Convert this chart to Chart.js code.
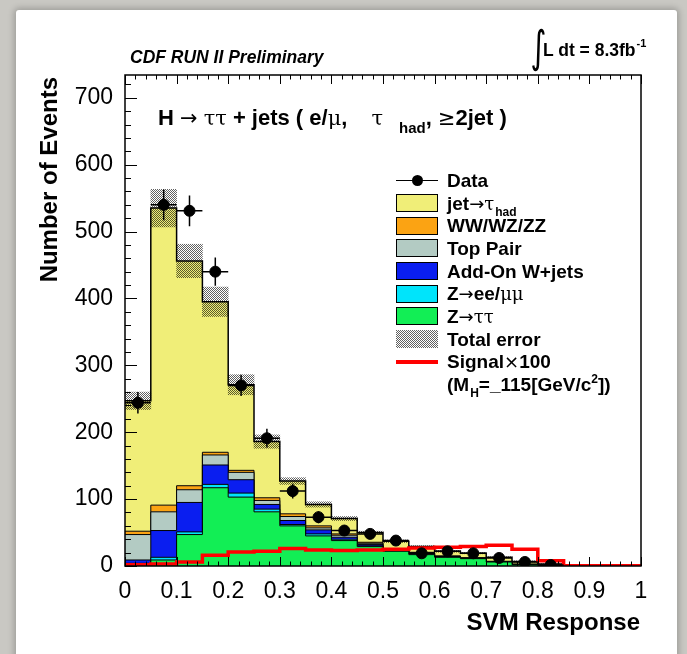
<!DOCTYPE html>
<html>
<head>
<meta charset="utf-8">
<script src="https://cdn.jsdelivr.net/npm/chart.js@4.4.1/dist/chart.umd.min.js"></script>
<style>
  html,body{margin:0;padding:0;}
  body{width:687px;height:654px;background:#c9c8c3;position:relative;overflow:hidden;font-family:"Liberation Sans",Arial,sans-serif;color:#000;}
  #panel{position:absolute;left:16px;top:10px;width:661px;height:700px;background:#fff;box-shadow:0 0 6px 2px rgba(0,0,0,.22);border-radius:3px;}
  #c{position:absolute;left:0;top:0;}
  .t{position:absolute;white-space:nowrap;line-height:1;font-weight:bold;}
  .g{font-family:"DejaVu Serif",serif;font-weight:normal;font-size:0.95em;}
  .a{font-family:"DejaVu Sans",sans-serif;font-weight:normal;font-size:0.95em;}
  sub,sup{position:relative;vertical-align:baseline;line-height:0;}
  #legend{position:absolute;left:396px;top:169px;}
  .row{height:22.7px;display:flex;align-items:center;font-weight:bold;font-size:19px;line-height:1;white-space:nowrap;}
  .sw{width:42px;height:18px;margin-right:9px;box-sizing:border-box;flex:none;position:relative;}
  .row sub{font-size:12px;top:6px;margin-left:1px;}
  .row sup{font-size:12px;top:-8px;}
</style>
</head>
<body>
<div id="panel"></div>
<canvas id="c" width="687" height="654"></canvas>

<div class="t" style="left:130px;top:49px;font-size:17.5px;font-style:italic;">CDF RUN II Preliminary</div>
<div class="t" style="left:527px;top:25px;font-size:44px;font-weight:normal;font-family:'DejaVu Sans',sans-serif;transform:scaleX(0.7);">∫</div>
<div class="t" style="left:543px;top:42px;font-size:17.5px;">L dt = 8.3fb<sup style="font-size:11px;top:-9px;margin-left:1px;">-1</sup></div>
<div class="t" style="left:158px;top:107px;font-size:22px;">H <span class="a">→</span> <span class="g">ττ</span> + jets ( e/<span class="g">μ</span>, <span class="g" style="margin-left:18px;">τ</span><sub style="font-size:15px;top:8px;margin-left:16px;">had</sub>, <span class="a">≥</span>2jet )</div>
<div class="t" style="left:340px;top:610px;width:300px;text-align:right;font-size:24px;">SVM Response</div>
<div class="t" style="left:37px;top:377px;width:300px;text-align:right;font-size:24px;transform-origin:left top;transform:rotate(-90deg);">Number of Events</div>
<div id="legend"></div>

<script>
// SVM Response bins (low edges), width 0.05
const binLow = [0,0.05,0.1,0.15,0.2,0.25,0.3,0.35,0.4,0.45,0.5,0.55,0.6,0.65,0.7,0.75,0.8,0.85,0.9,0.95];
const binW = 0.05;
const xTicks = [0,0.1,0.2,0.3,0.4,0.5,0.6,0.7,0.8,0.9,1];
const xTickLabels = ['0','0.1','0.2','0.3','0.4','0.5','0.6','0.7','0.8','0.9','1'];
const yTicks = [0,100,200,300,400,500,600,700];
const yMax = 734;

// backgrounds (stack, bottom first)
const zTauTau = [3,9,47,117,103,81,60,45,38,29,22,17,13,11,6,2,1,0,0,0];
const zEeMuMu = [1,4,4,5,6,4,2,3,2,1,1,1,0.5,0.5,0.3,0.2,0,0,0,0];
const wJets   = [5,40,44,29,20,7,6,6,3,2,1.5,1,0.7,0.3,0.3,0.2,0,0,0,0];
const topPair = [38,28,19,15,11,6,6,3,3,2,1,1,0.5,0.2,0.2,0.2,0,0,0,0];
const diboson = [5,10,6,4,3,4,4,3,2,1.5,0.5,0.5,0.3,0.2,0.2,0.2,0,0,0,0];
const jetTau  = [195,444,336,225,128,84,49,32,23,14.5,11,8.5,7,7,6,4,2,0,0,0];
const totalErr = [13,28,25,22,15,10,5,4,3,2,2,1.5,1.5,1,1,1,0.5,0,0,0];

// data and signal x100
const dataVals = [244,540,531,440,270,191,112,73,53,48,38,19,22,19,12,6,1.5,null,null,null];
const dataErr  = [16,23,23,21,16,14,11,9,7,7,6,4.5,5,4.5,3.5,2.5,1.2,0,0,0];
const signal100 = [2,3,6,16,21,22,26,24,23,24,25,27,28,29,31,25,8,0.5,0.5,0.5];

const colJet='#f0ee78', colVV='#fba313', colTop='#b3cbc3', colW='#0a1ef0', colZll='#00e4fb', colZtt='#12ee55', colSig='#ff0000';

const stepPts = v => binLow.map((x,i)=>({x, y:v[i]})).concat([{x:1, y:v[v.length-1]}]);
const center = i => binLow[i] + binW/2;
const total = binLow.map((_,i)=> zTauTau[i]+zEeMuMu[i]+wJets[i]+topPair[i]+diboson[i]+jetTau[i]);

// dotted grey "total error" fill
function hatchCanvas(){
    const p=document.createElement('canvas'); p.width=p.height=2;
    const g=p.getContext('2d');
    g.fillStyle='rgba(0,0,0,0.62)';
    g.fillRect(0,0,1,1); g.fillRect(1,1,1,1);
    return p;
}
const hc = hatchCanvas();
const hatch = document.getElementById('c').getContext('2d').createPattern(hc,'repeat');

function layer(label, vals, color, fill, bw){
    return {type:'line', label, data:stepPts(vals), yAxisID:'y', stepped:'before', tension:0,
        backgroundColor:color, borderColor:'#000', borderWidth:bw||1, pointRadius:0, fill};
}

const tickFont = {family:'"Liberation Sans", Arial, sans-serif', size:23};

// data error bars
const errBars = {
    id:'errBars',
    afterDatasetsDraw(chart){
        const {ctx, scales:{x, y2}} = chart;
        ctx.save(); ctx.strokeStyle='#000'; ctx.lineWidth=1.5;
        ctx.beginPath();
        dataVals.forEach((v,i)=>{
            if(v==null) return;
            const cx=x.getPixelForValue(center(i)), cy=y2.getPixelForValue(v);
            ctx.moveTo(x.getPixelForValue(binLow[i]), cy); ctx.lineTo(x.getPixelForValue(binLow[i]+binW), cy);
            ctx.moveTo(cx, y2.getPixelForValue(v-dataErr[i])); ctx.lineTo(cx, y2.getPixelForValue(v+dataErr[i]));
        });
        ctx.stroke(); ctx.restore();
    }
};

// ROOT-style frame with inward ticks
const frame = {
    id:'frame',
    afterDraw(chart){
        const {ctx, chartArea:a, scales:{x, y}} = chart;
        ctx.save(); ctx.strokeStyle='#000'; ctx.lineWidth=1;
        ctx.beginPath();
        for(let k=0;k<=50;k++){
            const px=Math.round(x.getPixelForValue(k*0.02))+0.5, L=(k%5===0)?9:4.5;
            ctx.moveTo(px,a.bottom); ctx.lineTo(px,a.bottom-L);
            ctx.moveTo(px,a.top); ctx.lineTo(px,a.top+L);
        }
        for(let v=0; v<=yMax; v+=20){
            const py=Math.round(y.getPixelForValue(v))+0.5, L=(v%100===0)?12:6;
            ctx.moveTo(a.left,py); ctx.lineTo(a.left+L,py);
        }
        ctx.stroke();
        ctx.lineWidth=1.5;
        ctx.strokeRect(a.left,a.top,a.right-a.left,a.bottom-a.top);
        ctx.restore();
    }
};

const chart = new Chart(document.getElementById('c'),{
    type:'line',
    data:{datasets:[
        {type:'scatter', label:'Data', yAxisID:'y2', showLine:false, pointRadius:5.5, pointHoverRadius:5.5,
            backgroundColor:'#000', borderColor:'#000',
            data:dataVals.map((v,i)=> v==null?null:{x:center(i), y:v}).filter(Boolean)},
        {type:'line', label:'Signal×100', yAxisID:'y2', data:stepPts(signal100), stepped:'before',
            borderColor:colSig, borderWidth:3.5, pointRadius:0, fill:false},
        {type:'bar', label:'Total error', yAxisID:'y2', backgroundColor:hatch, borderWidth:0,
            barPercentage:1, categoryPercentage:1,
            data:binLow.map((_,i)=>({x:center(i), y:[total[i]-totalErr[i], total[i]+totalErr[i]]}))},
        layer('Z→ττ', zTauTau, colZtt, 'origin'),
        layer('Z→ee/μμ', zEeMuMu, colZll, '-1'),
        layer('Add-On W+jets', wJets, colW, '-1'),
        layer('Top Pair', topPair, colTop, '-1'),
        layer('WW/WZ/ZZ', diboson, colVV, '-1'),
        layer('jet→τhad', jetTau, colJet, '-1', 1.5)
    ]},
    options:{
        responsive:false, animation:false, events:[],
        layout:{padding:{left:0, right:46, top:75, bottom:0}},
        plugins:{legend:{display:false}, tooltip:{enabled:false}, title:{display:false}},
        scales:{
            x:{type:'linear', min:0, max:1, offset:false,
                grid:{display:false, drawTicks:false}, border:{display:false},
                ticks:{color:'#000', font:tickFont, padding:12, maxRotation:0, autoSkip:false,
                    callback:(v)=> xTickLabels[Math.round(v*10)]},
                afterBuildTicks:s=>{ s.ticks = xTicks.map(value=>({value})); },
                afterFit:s=>{ s.height = 88; }},
            y:{type:'linear', stacked:true, min:0, max:yMax,
                grid:{display:false, drawTicks:false}, border:{display:false},
                ticks:{color:'#000', font:tickFont, padding:12, includeBounds:false},
                afterBuildTicks:s=>{ s.ticks = yTicks.map(value=>({value})); },
                afterFit:s=>{ s.width = 125; }},
            y2:{type:'linear', display:false, min:0, max:yMax}
        }
    },
    plugins:[errBars, frame]
});

// legend (drawn as html next to the plot)
const legendItems = [
    ['data', '#000', 'Data'],
    ['box', colJet, 'jet<span class="a">→</span><span class="g">τ</span><sub>had</sub>'],
    ['box', colVV, 'WW/WZ/ZZ'],
    ['box', colTop, 'Top Pair'],
    ['box', colW, 'Add-On W+jets'],
    ['box', colZll, 'Z<span class="a">→</span>ee/<span class="g">μμ</span>'],
    ['box', colZtt, 'Z<span class="a">→</span><span class="g">ττ</span>'],
    ['err', null, 'Total error'],
    ['sig', colSig, 'Signal<span class="a">×</span>100'],
    ['none', null, '(M<sub>H</sub>=_115[GeV/c<sup>2</sup>])']
];
const hatchUrl = hc.toDataURL();
document.getElementById('legend').innerHTML = legendItems.map(([k,c,txt])=>{
    let sw='';
    if(k==='box') sw=`<div class="sw" style="background:${c};border:1.5px solid #000"></div>`;
    if(k==='err') sw=`<div class="sw" style="background:url(${hatchUrl}) repeat"></div>`;
    if(k==='data') sw=`<div class="sw"><div style="position:absolute;left:0;right:0;top:8.25px;height:1.5px;background:#000"></div><div style="position:absolute;left:15.5px;top:3.5px;width:11px;height:11px;border-radius:50%;background:#000"></div></div>`;
    if(k==='sig') sw=`<div class="sw"><div style="position:absolute;left:0;right:0;top:7px;height:4px;background:${c}"></div></div>`;
    if(k==='none') sw=`<div class="sw"></div>`;
    return `<div class="row">${sw}<span>${txt}</span></div>`;
}).join('');
</script>
</body>
</html>
